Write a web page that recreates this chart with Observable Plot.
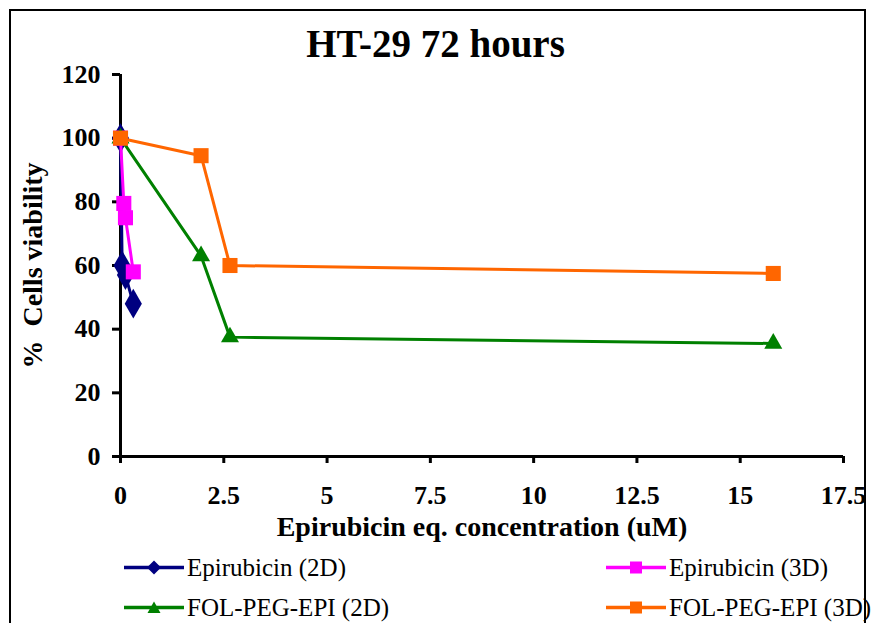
<!DOCTYPE html>
<html><head><meta charset="utf-8">
<script src="https://cdn.jsdelivr.net/npm/d3@7"></script>
<script src="https://cdn.jsdelivr.net/npm/@observablehq/plot@0.6"></script>
<style>
body{margin:0;background:#fff;}
#wrap{position:relative;width:871px;height:623px;overflow:hidden;font-family:"Liberation Serif","Times New Roman",serif;color:#000;background:#fff;}
#frame{position:absolute;left:9px;top:9px;width:857px;height:700px;border:2px solid #000;box-sizing:border-box;}
#title{position:absolute;left:0;top:24px;width:871px;text-align:center;font-weight:bold;font-size:39px;line-height:39px;}
#chart{position:absolute;left:0;top:0;}
.leg{position:absolute;height:25px;display:flex;align-items:center;}
.leg svg{display:block;}
.leg span{font-size:25px;line-height:25px;margin-left:3px;white-space:nowrap;}
</style></head>
<body>
<div id="wrap">
  <div id="frame"></div>
  <div id="chart"></div>
  <div id="title"></div>
  <div id="legend"></div>
</div>
<script>
const titleText = "HT-29 72 hours";
const xLabel = "Epirubicin eq. concentration (uM)";
const yLabel = "%  Cells viability";
const xTicks = [0, 2.5, 5, 7.5, 10, 12.5, 15, 17.5];
const yTicks = [0, 20, 40, 60, 80, 100, 120];

const seriesNames = ["Epirubicin (2D)", "Epirubicin (3D)", "FOL-PEG-EPI (2D)", "FOL-PEG-EPI (3D)"];
const seriesColors = ["#000080", "#FF00FF", "#008000", "#FF6600"];
const seriesSymbols = ["diamond", "square", "triangle", "square"];

const xEpi2D = [0, 0.04, 0.12, 0.31];
const yEpi2D = [100, 60, 57, 48];
const xEpi3D = [0, 0.08, 0.12, 0.31];
const yEpi3D = [100, 79.5, 75, 58];
const xFol2D = [0, 1.95, 2.65, 15.8];
const yFol2D = [100, 63, 37.5, 35.5];
const xFol3D = [0, 1.95, 2.65, 15.8];
const yFol3D = [100, 94.5, 60, 57.5];

const xs = [xEpi2D, xEpi3D, xFol2D, xFol3D];
const ys = [yEpi2D, yEpi3D, yFol2D, yFol3D];
const symR = [9, 8.5, 6.7, 8.5];

const tables = xs.map((xa, i) => xa.map((x, j) => ({x, y: ys[i][j], s: seriesNames[i]})));

const font = '"Liberation Serif","Times New Roman",serif';
const marks = [
  Plot.ruleY([0], {stroke: "#000", strokeWidth: 3, x1: -0.17, x2: 17.5}),
  Plot.ruleX([0], {stroke: "#000", strokeWidth: 3}),
  Plot.axisX({ticks: xTicks, tickSize: 7, tickPadding: 22, tickFormat: d => String(d), strokeWidth: 3, label: null}),
  Plot.axisY({ticks: yTicks, tickSize: 8, tickPadding: 12, tickFormat: d => String(d), strokeWidth: 3, label: null}),
  Plot.text([xLabel], {text: d => d, frameAnchor: "bottom", dy: 71, textAnchor: "middle", lineAnchor: "middle", fontSize: 28, fontWeight: "bold", fill: "#000"}),
  Plot.text([yLabel], {text: d => d, frameAnchor: "left", dx: -87, rotate: -90, textAnchor: "middle", lineAnchor: "middle", fontSize: 28, fontWeight: "bold", fill: "#000"})
];
tables.forEach((t, i) => {
  marks.push(Plot.line(t, {x: "x", y: "y", stroke: seriesColors[i], strokeWidth: 3}));
  marks.push(Plot.dot(t, {x: "x", y: "y", symbol: seriesSymbols[i], r: symR[i], fill: seriesColors[i], stroke: "none"}));
});

const chart = Plot.plot({
  width: 871, height: 545,
  marginTop: 74, marginBottom: 89, marginLeft: 120, marginRight: 28,
  x: {domain: [0, 17.5]},
  y: {domain: [0, 120]},
  style: {fontFamily: font, fontSize: "26px", fontWeight: "bold", color: "#000", background: "transparent", overflow: "visible"},
  marks
});
document.getElementById("chart").appendChild(chart);
document.getElementById("title").textContent = titleText;

// legend
const legPos = [[124, 555], [606, 555], [124, 595], [606, 595]];
const leg = document.getElementById("legend");
seriesNames.forEach((name, i) => {
  const d = document.createElement("div");
  d.className = "leg";
  d.style.left = legPos[i][0] + "px";
  d.style.top = legPos[i][1] + "px";
  const sym = seriesSymbols[i];
  const c = seriesColors[i];
  let shape = "";
  if (sym === "diamond") shape = `<path d="M30,5.5L37,12.5L30,19.5L23,12.5Z" fill="${c}"/>`;
  else if (sym === "square") shape = `<rect x="24" y="6.5" width="12" height="12" fill="${c}"/>`;
  else shape = `<path d="M30,6.5L36.5,18L23.5,18Z" fill="${c}"/>`;
  d.innerHTML = `<svg width="60" height="25"><line x1="0" x2="60" y1="12.5" y2="12.5" stroke="${c}" stroke-width="3.5"/>${shape}</svg><span>${name}</span>`;
  leg.appendChild(d);
});
</script>
</body></html>
